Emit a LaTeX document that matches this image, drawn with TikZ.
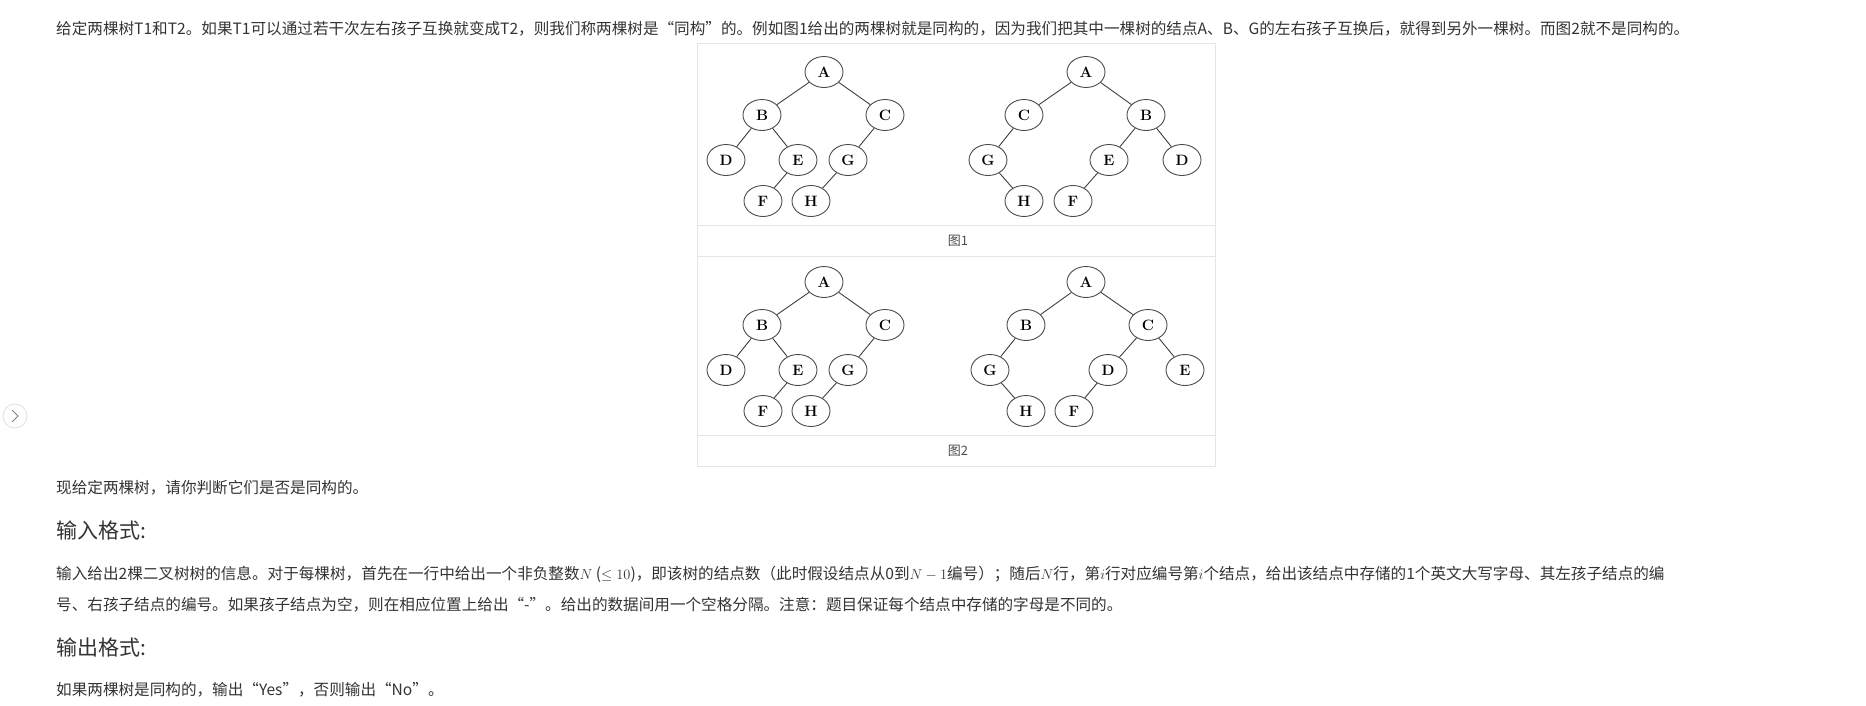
\documentclass[tikz,border=0pt]{standalone}
\usepackage{fontspec}
\setmainfont{Noto Sans CJK SC}
\newfontfamily\lmfont{Latin Modern Roman}
\usetikzlibrary{shapes.geometric}
\definecolor{txt}{HTML}{333333}
\tikzset{
  tn/.style={ellipse,draw=black!70,line width=0.9pt,minimum width=38pt,minimum height=31pt,inner sep=0pt,font=\lmfont\bfseries\fontsize{15}{15}\selectfont,fill=white},
  te/.style={draw=black!75,line width=0.9pt},
  para/.style={anchor=west,inner sep=0pt,text=txt,font=\fontsize{15.6}{18}\selectfont},
  head/.style={anchor=west,inner sep=0pt,text=txt,font=\fontsize{21}{24}\selectfont},
  figcap/.style={inner sep=0pt,text=black!70,font=\fontsize{13}{15}\selectfont},
  frame/.style={draw=black!10,line width=0.8pt}
}
\begin{document}
\begin{tikzpicture}[x=1pt,y=-1pt]
\useasboundingbox (0,0) rectangle (1866,705);
% text
\node[para] (t1) at (56,29) {给定两棵树T1和T2。如果T1可以通过若干次左右孩子互换就变成T2，则我们称两棵树是“同构”的。例如图1给出的两棵树就是同构的，因为我们把其中一棵树的结点A、B、G的左右孩子互换后，就得到另外一棵树。而图2就不是同构的。};
\node[para] (t2) at (56,488) {现给定两棵树，请你判断它们是否是同构的。};
\node[head] (h1) at (56,530) {输入格式:};
\node[para] (t3) at (56,574) {输入给出2棵二叉树树的信息。对于每棵树，首先在一行中给出一个非负整数$N$ ($\le 10$)，即该树的结点数（此时假设结点从0到$N-1$编号）；随后$N$行，第$i$行对应编号第$i$个结点，给出该结点中存储的1个英文大写字母、其左孩子结点的编};
\node[para] (t4) at (56,605) {号、右孩子结点的编号。如果孩子结点为空，则在相应位置上给出“-”。给出的数据间用一个空格分隔。注意：题目保证每个结点中存储的字母是不同的。};
\node[head] (h2) at (56,647) {输出格式:};
\node[para] (t5) at (56,690) {如果两棵树是同构的，输出“Yes”，否则输出“No”。};
% side button
\draw[black!12,line width=0.8pt,fill=white] (15,416) circle (12);
\draw[black!50,line width=0.9pt] (12,410) -- (18,416) -- (12,422);
% frame
\draw[frame] (697,43) rectangle (1215,466);
\draw[frame] (697,225) -- (1215,225);
\draw[frame] (697,256) -- (1215,256);
\draw[frame] (697,435) -- (1215,435);
\node[figcap] (c1) at (958,241) {图1};
\node[figcap] (c2) at (958,451) {图2};
% fig1 left
\foreach \n/\x/\y in {A/824/72,B/762/115,C/885/115,D/726/160,E/798/160,G/848/160,F/763/201,H/811/201}
  \node[tn] (a\n) at (\x,\y) {\n};
\foreach \p/\c in {A/B,A/C,B/D,B/E,E/F,C/G,G/H} \draw[te] (a\p) -- (a\c);
% fig1 right
\foreach \n/\x/\y in {A/1086/72,C/1024/115,B/1146/115,G/988/160,E/1109/160,D/1182/160,H/1024/201,F/1073/201}
  \node[tn] (b\n) at (\x,\y) {\n};
\foreach \p/\c in {A/C,A/B,C/G,G/H,B/E,B/D,E/F} \draw[te] (b\p) -- (b\c);
% fig2 left
\foreach \n/\x/\y in {A/824/282,B/762/325,C/885/325,D/726/370,E/798/370,G/848/370,F/763/411,H/811/411}
  \node[tn] (c\n) at (\x,\y) {\n};
\foreach \p/\c in {A/B,A/C,B/D,B/E,E/F,C/G,G/H} \draw[te] (c\p) -- (c\c);
% fig2 right
\foreach \n/\x/\y in {A/1086/282,B/1026/325,C/1148/325,G/990/370,D/1108/370,E/1185/370,H/1026/411,F/1074/411}
  \node[tn] (d\n) at (\x,\y) {\n};
\foreach \p/\c in {A/B,A/C,B/G,G/H,C/D,C/E,D/F} \draw[te] (d\p) -- (d\c);
\end{tikzpicture}
\end{document}
